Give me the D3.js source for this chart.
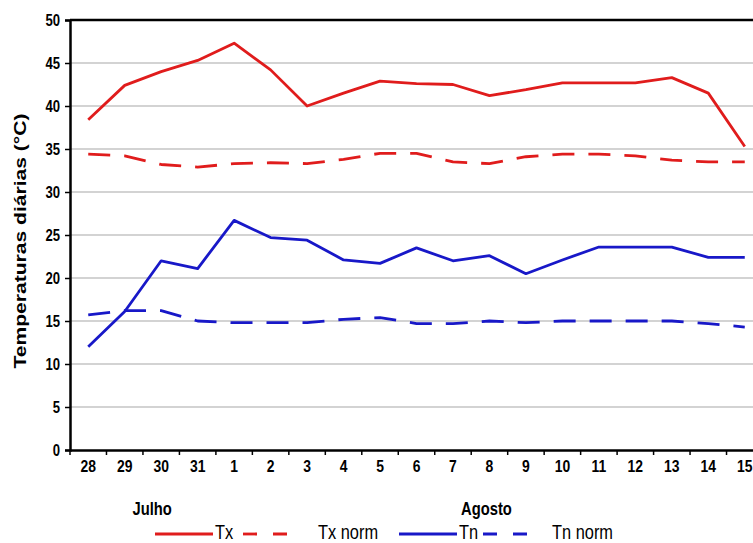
<!DOCTYPE html>
<html><head><meta charset="utf-8">
<script src="https://cdn.jsdelivr.net/npm/d3@7"></script>
<style>html,body{margin:0;padding:0;background:#fff;overflow:hidden}</style>
</head><body>
<svg id="c" width="753" height="543"></svg>
<script>
const days = ["28","29","30","31","1","2","3","4","5","6","7","8","9","10","11","12","13","14","15"];
const tx     = [38.4,42.4,44.0,45.3,47.3,44.2,40.0,41.5,42.9,42.6,42.5,41.2,41.9,42.7,42.7,42.7,43.3,41.5,35.3];
const txNorm = [34.4,34.2,33.2,32.9,33.3,33.4,33.3,33.8,34.5,34.5,33.5,33.3,34.1,34.4,34.4,34.2,33.7,33.5,33.5];
const tn     = [12.0,16.1,22.0,21.1,26.7,24.7,24.4,22.1,21.7,23.5,22.0,22.6,20.5,22.1,23.6,23.6,23.6,22.4,22.4];
const tnNorm = [15.7,16.2,16.2,15.0,14.8,14.8,14.8,15.2,15.4,14.7,14.7,15.0,14.8,15.0,15.0,15.0,15.0,14.7,14.3];
const yTicks = [0,5,10,15,20,25,30,35,40,45,50];
const months = [{label:"Julho", at:"30", shift:-9}, {label:"Agosto", at:"8", shift:-3}];
const seriesNames = ["Tx","Tx norm","Tn","Tn norm"];

const RED = "#e01c1c", BLUE = "#1818c8";
const series = [
  {name:seriesNames[0], values:tx, color:RED, dash:null},
  {name:seriesNames[1], values:txNorm, color:RED, dash:"22,14"},
  {name:seriesNames[2], values:tn, color:BLUE, dash:null},
  {name:seriesNames[3], values:tnNorm, color:BLUE, dash:"22,14"}
];

const svg = d3.select("#c");
const L = 70, R = 763, T = 20, B = 450;
const x = d3.scaleBand().domain(days).range([L, R]);
const y = d3.scaleLinear().domain([0, 50]).range([B, T]);
const SX = 0.82;
const FONT = "'Liberation Sans', Arial, sans-serif";

// gridlines
svg.append("g").selectAll("line").data(yTicks.filter(v => v > 0 && v < 50)).join("line")
  .attr("x1", L).attr("x2", R).attr("y1", d => y(d)).attr("y2", d => y(d))
  .attr("stroke", "#c4c4c4").attr("stroke-width", 1.5);

// top border
svg.append("line").attr("x1", L).attr("x2", R).attr("y1", y(50)).attr("y2", y(50))
  .attr("stroke", "#000").attr("stroke-width", 2.5);

// y axis
const yAxis = svg.append("g").attr("transform", `translate(${L},0)`)
  .call(d3.axisLeft(y).tickValues(yTicks).tickSize(5).tickPadding(7));
yAxis.select(".domain").attr("stroke", "#000").attr("stroke-width", 2.5);
yAxis.selectAll(".tick line").attr("stroke", "#000").attr("stroke-width", 1.5);
yAxis.selectAll(".tick text").attr("font-family", FONT).attr("font-weight", "bold")
  .attr("font-size", 16).attr("fill", "#000").attr("dy", "0.36em")
  .attr("transform", `scale(${SX},1)`).attr("x", -10 / SX);

// x axis
const xAxis = svg.append("g").attr("transform", `translate(0,${B})`)
  .call(d3.axisBottom(x).tickSize(0).tickPadding(20));
xAxis.select(".domain").attr("stroke", "#000").attr("stroke-width", 2.5);
xAxis.selectAll(".tick text").attr("font-family", FONT).attr("font-weight", "bold")
  .attr("font-size", 17).attr("fill", "#000").attr("dy", "0.1em")
  .attr("transform", `scale(${SX},1)`);
const edges = days.map(d => x(d)).concat([x(days[days.length-1]) + x.bandwidth()]);
svg.append("g").selectAll("line").data(edges).join("line")
  .attr("x1", d => d).attr("x2", d => d).attr("y1", B).attr("y2", B + 5)
  .attr("stroke", "#000").attr("stroke-width", 1.5);

// month labels
months.forEach(m => {
  const cx = x(m.at) + x.bandwidth() / 2 + m.shift;
  svg.append("text").attr("transform", `translate(${cx},515) scale(${SX},1)`)
    .attr("text-anchor", "middle").attr("font-family", FONT).attr("font-weight", "bold")
    .attr("font-size", 18).text(m.label);
});

// y title
svg.append("text").attr("transform", `translate(26,241) rotate(-90) scale(1,${SX})`)
  .attr("text-anchor", "middle").attr("font-family", FONT).attr("font-weight", "bold")
  .attr("font-size", 20).attr("textLength", 255).attr("lengthAdjust", "spacingAndGlyphs")
  .text("Temperaturas diárias (°C)");

// lines
const line = d3.line().x((d, i) => x(days[i]) + x.bandwidth() / 2).y(d => y(d));
svg.append("clipPath").attr("id", "pc").append("rect")
  .attr("x", L).attr("y", T - 5).attr("width", R - L).attr("height", B - T + 5);
svg.append("g").attr("clip-path", "url(#pc)").selectAll("path").data(series).join("path")
  .attr("d", s => line(s.values)).attr("fill", "none")
  .attr("stroke", s => s.color).attr("stroke-width", 2.8)
  .attr("stroke-dasharray", s => s.dash).attr("stroke-linejoin", "round");

// legend
const legendPos = [
  {x1:155, x2:213, tx:215},
  {x1:243, x2:301, tx:318},
  {x1:399, x2:457, tx:459},
  {x1:483, x2:541, tx:552}
];
const lg = svg.append("g");
series.forEach((s, i) => {
  const p = legendPos[i];
  lg.append("line").attr("x1", p.x1).attr("x2", p.x2).attr("y1", 534).attr("y2", 534)
    .attr("stroke", s.color).attr("stroke-width", 2.8)
    .attr("stroke-dasharray", s.dash ? "14,16" : null);
  lg.append("text").attr("transform", `translate(${p.tx},539) scale(${SX},1)`)
    .attr("font-family", FONT).attr("font-size", 20).attr("fill", "#000").text(s.name);
});
</script>
</body></html>
